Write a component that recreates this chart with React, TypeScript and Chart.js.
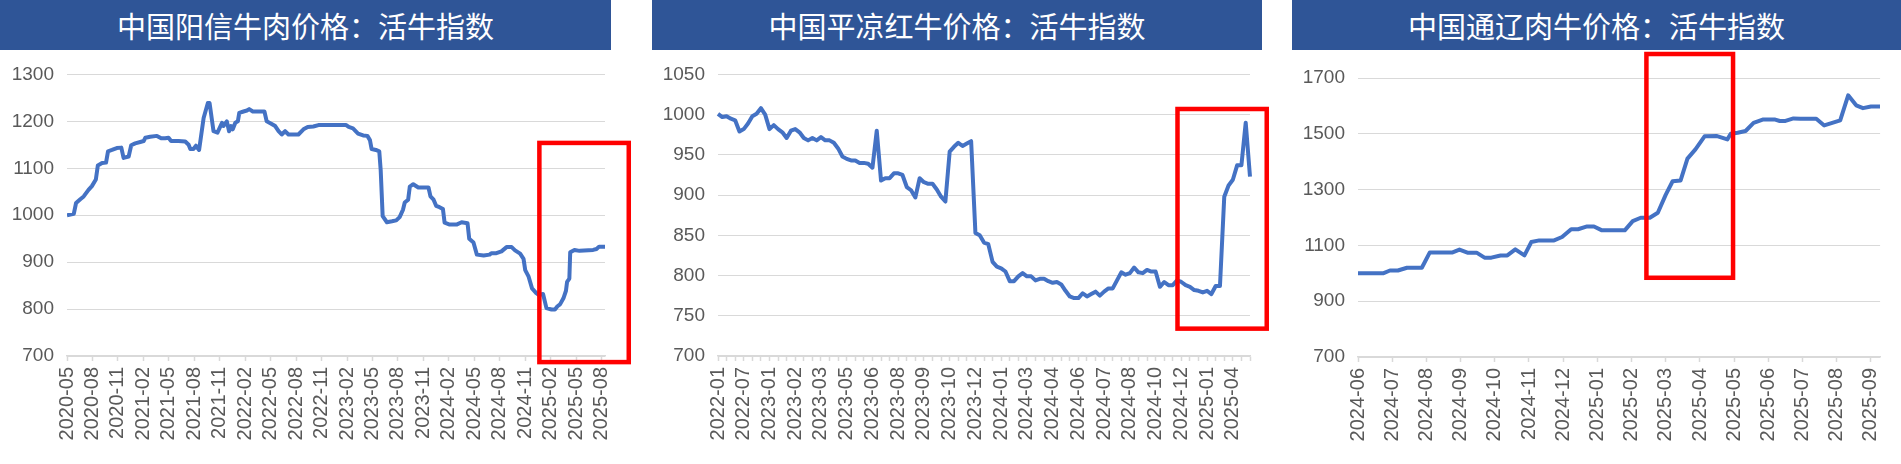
import { useEffect, useRef } from 'react';
import { Chart, registerables } from 'chart.js';

Chart.register(...registerables);

// ---------- Chart 1: 中国阳信牛肉价格：活牛指数 ----------
const YX_DATES = [
  '2020-05-01', '2020-05-25', '2020-06-03', '2020-06-18', '2020-06-30', '2020-07-17', '2020-07-29',
  '2020-08-13', '2020-08-20', '2020-09-05', '2020-09-19', '2020-09-26', '2020-10-10', '2020-10-27',
  '2020-11-13', '2020-11-21', '2020-12-09', '2020-12-18', '2021-01-02', '2021-01-20', '2021-02-02',
  '2021-02-08', '2021-02-25', '2021-03-19', '2021-04-04', '2021-04-18', '2021-04-30', '2021-05-09',
  '2021-06-05', '2021-06-29', '2021-07-11', '2021-07-17', '2021-07-28', '2021-08-07', '2021-08-18',
  '2021-09-04', '2021-09-19', '2021-09-25', '2021-10-09', '2021-10-23', '2021-11-09', '2021-11-14',
  '2021-11-26', '2021-12-04', '2021-12-11', '2021-12-17', '2021-12-26', '2022-01-05', '2022-01-10',
  '2022-01-25', '2022-02-07', '2022-02-15', '2022-02-28', '2022-04-09', '2022-04-17', '2022-05-03',
  '2022-05-17', '2022-05-29', '2022-06-10', '2022-06-22', '2022-07-04', '2022-08-09', '2022-08-27',
  '2022-09-12', '2022-10-02', '2022-10-20', '2023-01-28', '2023-02-07', '2023-02-22', '2023-03-10',
  '2023-03-28', '2023-04-13', '2023-04-22', '2023-04-28', '2023-05-13', '2023-05-25', '2023-05-30',
  '2023-06-07', '2023-06-22', '2023-07-10', '2023-07-25', '2023-08-07', '2023-08-19', '2023-08-25',
  '2023-09-07', '2023-09-13', '2023-09-25', '2023-10-13', '2023-11-19', '2023-11-26', '2023-12-07',
  '2023-12-16', '2023-12-28', '2024-01-10', '2024-01-16', '2024-02-04', '2024-02-28', '2024-03-16',
  '2024-04-07', '2024-04-13', '2024-04-28', '2024-05-10', '2024-06-04', '2024-06-25', '2024-07-01',
  '2024-07-19', '2024-08-07', '2024-08-25', '2024-09-13', '2024-09-25', '2024-10-13', '2024-10-25',
  '2024-11-01', '2024-11-13', '2024-11-25', '2024-12-10', '2024-12-19', '2025-01-04', '2025-01-16',
  '2025-02-04', '2025-02-16', '2025-02-25', '2025-03-04', '2025-03-16', '2025-03-25', '2025-03-29',
  '2025-04-07', '2025-04-10', '2025-04-25', '2025-05-13', '2025-07-01', '2025-07-13', '2025-07-22',
  '2025-08-13',
];
const YX_VALUES = [
  1000, 1003, 1026, 1034, 1040, 1054, 1062,
  1076, 1106, 1111, 1112, 1136, 1139, 1143,
  1144, 1122, 1125, 1149, 1153, 1156, 1158,
  1165, 1167, 1169, 1164, 1164, 1165, 1158,
  1158, 1157, 1150, 1141, 1141, 1148, 1139,
  1207, 1239, 1239, 1179, 1176, 1197, 1190,
  1200, 1179, 1190, 1183, 1197, 1200, 1218,
  1221, 1223, 1226, 1221, 1221, 1200, 1195,
  1190, 1179, 1172, 1179, 1172, 1172, 1183,
  1188, 1189, 1192, 1192, 1188, 1185, 1174,
  1170, 1169, 1160, 1141, 1139, 1136, 1096,
  998, 985, 987, 989, 996, 1012, 1027,
  1033, 1061, 1066, 1059, 1059, 1040, 1033,
  1020, 1017, 1013, 984, 980, 980, 985,
  983, 950, 942, 916, 914, 916, 919,
  919, 923, 932, 932, 925, 918, 907,
  883, 869, 844, 834, 830, 832, 802,
  799, 799, 806, 810, 823, 839, 858,
  865, 921, 926, 924, 926, 928, 933,
  933,
];
const YX_TICKS = [
  '2020-05', '2020-08', '2020-11', '2021-02', '2021-05', '2021-08', '2021-11', '2022-02',
  '2022-05', '2022-08', '2022-11', '2023-02', '2023-05', '2023-08', '2023-11', '2024-02',
  '2024-05', '2024-08', '2024-11', '2025-02', '2025-05', '2025-08',
];
const YX_BOX = { from: '2024-12-21', to: '2025-11-07', low: 687, high: 1154 };

// ---------- Chart 2: 中国平凉红牛价格：活牛指数 ----------
const PL_TICKS = [
  '2022-01', '2022-07', '2023-01', '2023-02', '2023-03', '2023-05', '2023-06', '2023-08',
  '2023-09', '2023-10', '2023-12', '2024-01', '2024-03', '2024-04', '2024-06', '2024-07',
  '2024-08', '2024-10', '2024-12', '2025-01', '2025-04',
];
const PL_LABEL_EVERY = 6;
const PL_VALUES = [
  1001, 997, 998, 995, 993, 979, 982, 989, 998, 1001,
  1008, 1000, 982, 987, 982, 978, 971, 980, 982, 978,
  971, 968, 971, 968, 972, 968, 968, 965, 958, 948,
  945, 943, 943, 940, 940, 939, 934, 980, 918, 921,
  921, 927, 927, 925, 910, 906, 897, 921, 916, 914,
  914, 907, 898, 892, 954, 960, 965, 961, 964, 967,
  853, 850, 841, 839, 817, 811, 809, 805, 793, 793,
  799, 803, 799, 799, 794, 796, 796, 793, 791, 792,
  789, 781, 774, 772, 772, 778, 774, 777, 780, 775,
  780, 784, 784, 794, 804, 801, 803, 810, 804, 803,
  807, 805, 805, 786, 792, 788, 788, 794, 792, 788,
  786, 782, 781, 779, 781, 777, 787, 787, 898, 912,
  919, 937, 937, 990, 923,
];
const PL_BOX = { from: 107.1, to: 127.9, low: 734, high: 1007 };

// ---------- Chart 3: 中国通辽肉牛价格：活牛指数 ----------
const TL_DATES = [
  '2024-06-01', '2024-06-23', '2024-06-29', '2024-07-06', '2024-07-14', '2024-07-27', '2024-08-04',
  '2024-08-24', '2024-08-30', '2024-09-07', '2024-09-15', '2024-09-22', '2024-09-28', '2024-10-06',
  '2024-10-12', '2024-10-19', '2024-10-27', '2024-11-03', '2024-11-10', '2024-11-23', '2024-11-30',
  '2024-12-08', '2024-12-14', '2024-12-22', '2024-12-28', '2025-01-05', '2025-01-25', '2025-02-02',
  '2025-02-09', '2025-02-17', '2025-02-24', '2025-03-01', '2025-03-07', '2025-03-14', '2025-03-20',
  '2025-03-27', '2025-04-05', '2025-04-16', '2025-04-25', '2025-04-28', '2025-05-04', '2025-05-11',
  '2025-05-18', '2025-05-26', '2025-06-07', '2025-06-11', '2025-06-16', '2025-06-23', '2025-06-29',
  '2025-07-13', '2025-07-20', '2025-07-27', '2025-08-04', '2025-08-11', '2025-08-18', '2025-08-24',
  '2025-09-01', '2025-09-09',
];
const TL_VALUES = [
  1000, 1000, 1010, 1010, 1020, 1020, 1075,
  1075, 1085, 1074, 1074, 1056, 1056, 1064,
  1064, 1086, 1064, 1112, 1118, 1118, 1130,
  1158, 1158, 1168, 1168, 1154, 1154, 1187,
  1199, 1199, 1217, 1282, 1330, 1333, 1411,
  1444, 1491, 1492, 1480, 1500, 1504, 1510,
  1539, 1551, 1551, 1546, 1546, 1555, 1554,
  1554, 1530, 1539, 1548, 1638, 1602, 1592,
  1598, 1598,
];
const TL_TICKS = [
  '2024-06', '2024-07', '2024-08', '2024-09', '2024-10', '2024-11', '2024-12', '2025-01',
  '2025-02', '2025-03', '2025-04', '2025-05', '2025-06', '2025-07', '2025-08', '2025-09',
];
const TL_BOX = { from: '2025-02-14', to: '2025-04-30', low: 984, high: 1786 };

// ---------- styling ----------
const AXIS_GREY = '#D9D9D9';
const TICK_TEXT = '#595959';
const LINE_BLUE = '#4472C4';
const TITLE_BG = '#2F5597';
const Y_FONT = { family: '"Liberation Sans", Arial, sans-serif', size: 19 };
const X_FONT = { family: '"Liberation Sans", Arial, sans-serif', size: 20 };
const LINE_WIDTH = 4;

function monthPos(s: string): number {
  const parts = s.split('-').map(Number);
  const d = parts[2] ?? 1;
  return parts[0] * 12 + (parts[1] - 1) + (d - 1) / 30;
}

const redBoxPlugin = {
  id: 'redBox',
  afterDraw(chart: any, _args: any, opts: any) {
    if (!opts || opts.x0 === undefined) return;
    const xs = chart.scales.x;
    const ys = chart.scales.y;
    const l = xs.getPixelForValue(opts.x0);
    const r = xs.getPixelForValue(opts.x1);
    const t = ys.getPixelForValue(opts.y1);
    const b = ys.getPixelForValue(opts.y0);
    const ctx = chart.ctx;
    ctx.save();
    ctx.strokeStyle = '#FF0000';
    ctx.lineWidth = 4.5;
    ctx.strokeRect(l, t, r - l, b - t);
    ctx.restore();
  },
};

type Layout = { padTop: number; padRight: number; yWidth: number; xHeight: number };

function yScale(min: number, max: number, step: number, lay: Layout) {
  return {
    min,
    max,
    ticks: {
      stepSize: step,
      color: TICK_TEXT,
      font: Y_FONT,
      padding: 13,
      callback: (v: any) => String(v),
    },
    grid: { color: AXIS_GREY, lineWidth: 1, drawTicks: false },
    border: { display: false },
    afterFit: (s: any) => {
      s.width = lay.yWidth;
    },
  };
}

function xCommon(lay: Layout) {
  return {
    ticks: {
      autoSkip: false,
      maxRotation: 90,
      minRotation: 90,
      color: TICK_TEXT,
      font: X_FONT,
      padding: 6,
    },
    border: { display: true, color: AXIS_GREY, width: 1.5 },
    afterFit: (s: any) => {
      s.height = lay.xHeight;
    },
  };
}

function dateLineConfig(
  dates: string[],
  values: number[],
  ticks: string[],
  yMin: number,
  yMax: number,
  yStep: number,
  box: { from: string; to: string; low: number; high: number },
  lay: Layout,
) {
  const pts = dates.map((d, i) => ({ x: monthPos(d), y: values[i] }));
  const tickVals = ticks.map((t) => monthPos(t));
  const xc = xCommon(lay);
  return {
    type: 'line' as const,
    data: {
      datasets: [
        {
          data: pts,
          borderColor: LINE_BLUE,
          borderWidth: LINE_WIDTH,
          pointRadius: 0,
          tension: 0,
          borderJoinStyle: 'round' as const,
        },
      ],
    },
    options: {
      responsive: false,
      animation: false as const,
      layout: { padding: { left: 0, top: lay.padTop, right: lay.padRight, bottom: 0 } },
      plugins: {
        legend: { display: false },
        tooltip: { enabled: false },
        redBox: { x0: monthPos(box.from), x1: monthPos(box.to), y0: box.low, y1: box.high },
      },
      scales: {
        x: {
          type: 'linear' as const,
          min: pts[0].x,
          max: pts[pts.length - 1].x,
          afterBuildTicks: (s: any) => {
            s.ticks = tickVals.map((v) => ({ value: v }));
          },
          ...xc,
          ticks: { ...xc.ticks, callback: (_v: any, i: number) => ticks[i] },
          grid: {
            drawOnChartArea: false,
            drawTicks: true,
            tickLength: 5,
            tickColor: AXIS_GREY,
            tickWidth: 1.5,
          },
        },
        y: yScale(yMin, yMax, yStep, lay),
      },
    },
    plugins: [redBoxPlugin],
  };
}

function categoryLineConfig(lay: Layout) {
  const cats = PL_VALUES.map((_, i) =>
    i % PL_LABEL_EVERY === 0 && PL_TICKS[i / PL_LABEL_EVERY] ? PL_TICKS[i / PL_LABEL_EVERY] : '',
  );
  const xc = xCommon(lay);
  return {
    type: 'line' as const,
    data: {
      labels: cats,
      datasets: [
        {
          data: PL_VALUES,
          borderColor: LINE_BLUE,
          borderWidth: LINE_WIDTH,
          pointRadius: 0,
          tension: 0,
          borderJoinStyle: 'round' as const,
        },
      ],
    },
    options: {
      responsive: false,
      animation: false as const,
      layout: { padding: { left: 0, top: lay.padTop, right: lay.padRight, bottom: 0 } },
      plugins: {
        legend: { display: false },
        tooltip: { enabled: false },
        redBox: { x0: PL_BOX.from, x1: PL_BOX.to, y0: PL_BOX.low, y1: PL_BOX.high },
      },
      scales: {
        x: {
          type: 'category' as const,
          offset: false,
          ...xc,
          ticks: { ...xc.ticks, callback: (_v: any, i: number) => cats[i] },
          grid: {
            drawOnChartArea: false,
            drawTicks: true,
            tickLength: 5,
            tickWidth: 1.5,
            tickColor: (ctx: any) => (ctx.index % 2 === 0 ? AXIS_GREY : 'rgba(0,0,0,0)'),
          },
        },
        y: yScale(700, 1050, 50, lay),
      },
    },
    plugins: [redBoxPlugin],
  };
}

function Panel(props: {
  left: number;
  width: number;
  titleLeft: number;
  titleWidth: number;
  title: string;
  build: () => any;
}) {
  const ref = useRef<HTMLCanvasElement>(null);
  useEffect(() => {
    if (!ref.current) return;
    const chart = new Chart(ref.current, props.build());
    return () => chart.destroy();
  }, []);
  return (
    <>
      <div
        style={{
          position: 'absolute',
          left: props.titleLeft,
          top: 0,
          width: props.titleWidth,
          height: 50,
          background: TITLE_BG,
          color: '#FFFFFF',
          fontFamily: '"Noto Sans CJK SC", sans-serif',
          fontSize: 29,
          lineHeight: '50px',
          textAlign: 'center',
          whiteSpace: 'nowrap',
        }}
      >
        {props.title}
      </div>
      <canvas
        ref={ref}
        width={props.width}
        height={414}
        style={{ position: 'absolute', left: props.left, top: 50, width: props.width, height: 414 }}
      />
    </>
  );
}

export default function App() {
  return (
    <div
      style={{
        position: 'absolute',
        left: 0,
        top: 0,
        width: 1901,
        height: 464,
        background: '#FFFFFF',
        overflow: 'hidden',
      }}
    >
      <Panel
        left={0}
        width={640}
        titleLeft={0}
        titleWidth={611}
        title="中国阳信牛肉价格：活牛指数"
        build={() =>
          dateLineConfig(YX_DATES, YX_VALUES, YX_TICKS, 700, 1300, 100, YX_BOX, {
            padTop: 19,
            padRight: 35,
            yWidth: 67,
            xHeight: 108,
          })
        }
      />
      <Panel
        left={640}
        width={640}
        titleLeft={652}
        titleWidth={610}
        title="中国平凉红牛价格：活牛指数"
        build={() => categoryLineConfig({ padTop: 19, padRight: 23, yWidth: 78, xHeight: 108 })}
      />
      <Panel
        left={1280}
        width={621}
        titleLeft={1292}
        titleWidth={609}
        title="中国通辽肉牛价格：活牛指数"
        build={() =>
          dateLineConfig(TL_DATES, TL_VALUES, TL_TICKS, 700, 1700, 200, TL_BOX, {
            padTop: 28,
            padRight: 1,
            yWidth: 78,
            xHeight: 107,
          })
        }
      />
    </div>
  );
}
